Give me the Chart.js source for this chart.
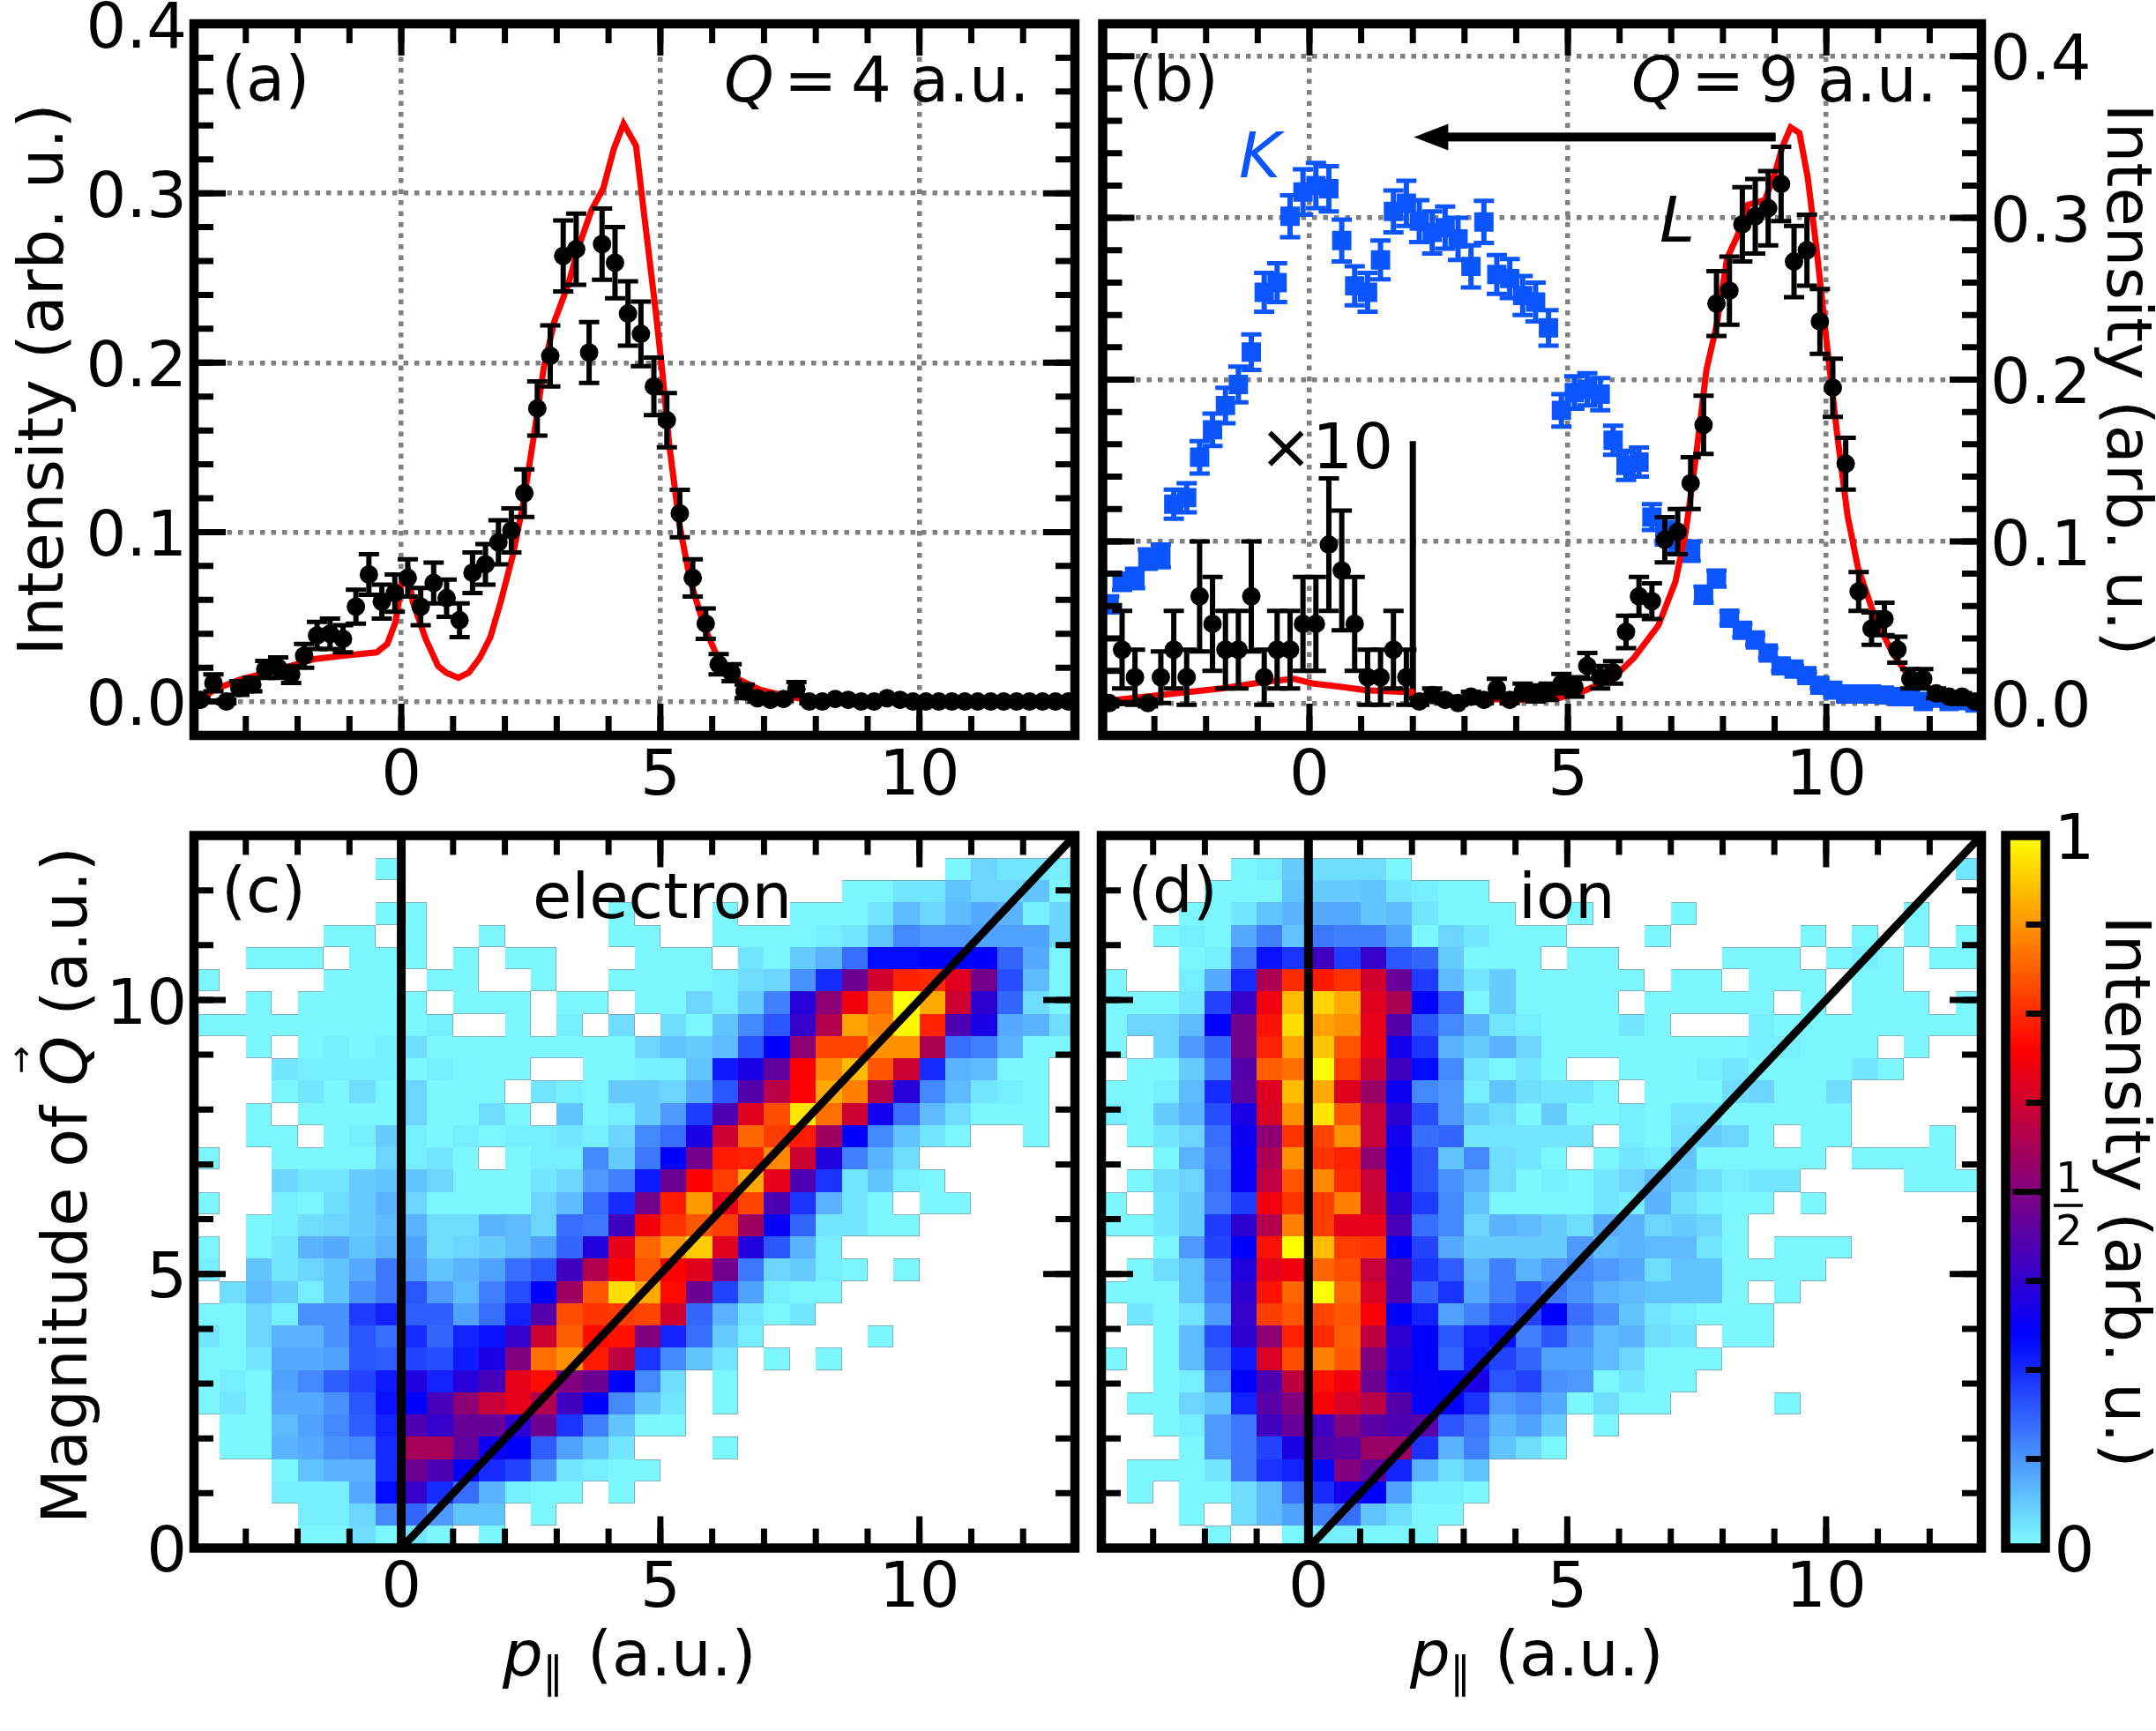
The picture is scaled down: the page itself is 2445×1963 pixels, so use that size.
<!DOCTYPE html>
<html>
<head>
<meta charset="utf-8">
<title>Intensity vs p parallel</title>
<script src="https://cdn.jsdelivr.net/npm/chart.js@4/dist/chart.umd.min.js"></script>
<style>
body { margin: 0; background: #fff; overflow: hidden; }
canvas { position: absolute; }
</style>
</head>
<body>
<canvas id="panel_a"></canvas>
<canvas id="panel_b"></canvas>
<canvas id="panel_c"></canvas>
<canvas id="panel_d"></canvas>
<canvas id="panel_cb"></canvas>
<script>
// bin centres shared by all measured points
var bin_x = [-3.875,-3.625,-3.375,-3.125,-2.875,-2.625,-2.375,-2.125,-1.875,-1.625,-1.375,-1.125,-0.875,-0.625,-0.375,-0.125,
    0.125,0.375,0.625,0.875,1.125,1.375,1.625,1.875,2.125,2.375,2.625,2.875,3.125,3.375,3.625,3.875,4.125,4.375,4.625,4.875,
    5.125,5.375,5.625,5.875,6.125,6.375,6.625,6.875,7.125,7.375,7.625,7.875,8.125,8.375,8.625,8.875,9.125,9.375,9.625,9.875,
    10.125,10.375,10.625,10.875,11.125,11.375,11.625,11.875,12.125,12.375,12.625,12.875];

// panel (a)
var a_values = [0.001,0.011,0,0.008,0.010,0.019,0.020,0.016,0.027,0.039,0.040,0.037,0.056,0.075,0.059,0.064,
    0.073,0.056,0.070,0.061,0.048,0.076,0.081,0.094,0.101,0.123,0.173,0.204,0.263,0.267,0.206,0.270,0.259,0.229,0.217,0.186,
    0.166,0.111,0.073,0.046,0.022,0.017,0.006,0.002,0.001,0.0015,0.0075,0,0,0.0015,0.001,0,0,0.002,0.001,0,
    0,0,0,0,0,0,0,0,0,0,0,0];
var a_errors = [0.001,0.005,0.001,0.004,0.004,0.005,0.006,0.005,0.007,0.008,0.009,0.008,0.010,0.012,0.010,0.011,
    0.011,0.011,0.012,0.011,0.010,0.012,0.012,0.013,0.013,0.014,0.016,0.018,0.021,0.021,0.018,0.021,0.021,0.019,0.019,0.017,
    0.016,0.014,0.011,0.009,0.006,0.005,0.004,0.002,0.001,0.001,0.004,0.001,0.001,0.001,0.001,0.001,0.001,0.001,0.001,0.001,
    0.001,0.001,0.001,0.001,0.001,0.001,0.001,0.001,0.001,0.001,0.001,0.001];
var a_curve_x = [-3.86,-3.61,-3.11,-2.36,-1.69,-1.15,-0.475,-0.27,-0.11,0.01,0.13,0.22,0.47,0.71,0.87,1.10,1.30,1.52,1.72,1.92,
    2.15,2.35,2.55,2.75,2.95,3.22,3.43,3.67,3.90,4.10,4.29,4.53,4.70,4.90,5.04,5.17,5.37,5.58,5.85,6.12,6.52,6.92,7.46,7.86,8.40,12.9];
var a_curve_y = [0.001,0.007,0.013,0.019,0.025,0.027,0.029,0.034,0.047,0.071,0.077,0.059,0.037,0.021,0.017,0.014,0.017,0.026,0.038,0.059,
    0.086,0.116,0.155,0.197,0.224,0.246,0.269,0.290,0.303,0.326,0.341,0.328,0.284,0.233,0.194,0.152,0.104,0.071,0.044,0.025,0.013,0.007,0.003,0.001,0,0];

// panel (b), L shell (x<2 already multiplied by ten, as plotted)
var l_values = [0,0.033,0.016,0,0.016,0.033,0.016,0.066,0.049,0.033,0.033,0.066,0.016,0.033,0.033,0.049,
    0.049,0.098,0.082,0.049,0.016,0.016,0.033,0.016,0.001,0.005,0.002,0,0.004,0.002,0.009,0.002,0.007,0.006,0.007,0.012,
    0.010,0.023,0.016,0.019,0.044,0.066,0.063,0.101,0.106,0.136,0.172,0.247,0.255,0.296,0.301,0.306,0.321,0.273,0.280,0.236,
    0.195,0.148,0.069,0.046,0.052,0.033,0.015,0.015,0.006,0.004,0.004,0.001];
var l_errors = [0.002,0.024,0.017,0.002,0.016,0.024,0.017,0.034,0.029,0.024,0.024,0.034,0.017,0.024,0.024,0.029,
    0.029,0.041,0.037,0.029,0.017,0.017,0.024,0.017,0.002,0.004,0.002,0.001,0.003,0.002,0.006,0.002,0.005,0.005,0.005,0.006,
    0.006,0.008,0.007,0.007,0.010,0.012,0.011,0.014,0.014,0.016,0.018,0.020,0.021,0.023,0.023,0.023,0.023,0.022,0.022,0.020,
    0.018,0.016,0.012,0.010,0.010,0.008,0.006,0.006,0.003,0.002,0.002,0.001];
// panel (b), K shell
var k_values = [0.061,0.075,0.077,0.089,0.091,0.123,0.127,0.152,0.169,0.184,0.197,0.217,0.254,0.260,0.301,0.316,
    0.320,0.318,0.286,0.258,0.254,0.274,0.304,0.309,0.298,0.291,0.294,0.287,0.270,0.2975,0.265,0.2625,0.252,0.248,0.232,0.181,
    0.192,0.194,0.191,0.1625,0.147,0.149,0.115,0.105,0.100,0.094,0.067,0.077,0.0525,0.045,0.039,0.031,0.023,0.021,0.017,0.011,
    0.008,0.0056,0.0056,0.0056,0.005,0.004,0.004,0.001,0.003,0.001,0.0015,0];
var k_errors = [0.005,0.005,0.006,0.006,0.007,0.009,0.009,0.010,0.010,0.011,0.011,0.011,0.012,0.012,0.013,0.014,
    0.014,0.014,0.013,0.012,0.012,0.012,0.013,0.014,0.013,0.013,0.013,0.013,0.013,0.013,0.012,0.012,0.012,0.012,0.011,0.010,
    0.010,0.010,0.010,0.009,0.009,0.009,0.008,0.007,0.007,0.006,0.005,0.005,0.004,0.004,0.003,0.003,0.003,0.002,0.002,0.002,
    0.002,0.001,0.001,0.001,0.001,0.001,0.001,0.001,0.001,0.001,0.001,0.001];
var b_curve_x = [-3.875,-3.17,-2.3,-1.7,-0.9,-0.3,0.09,0.63,1.09,1.76,1.98,2.02,2.82,4.02,4.82,5.35,5.89,6.28,6.75,7.08,7.28,7.48,7.68,7.88,
    8.08,8.28,8.48,8.81,9.01,9.15,9.31,9.48,9.64,9.81,10.01,10.21,10.41,10.61,10.95,11.28,11.61,12.01,12.41,12.89];
var b_curve_y = [0.0016,0.004,0.007,0.009,0.013,0.015,0.012,0.010,0.008,0.007,0.007,0.0016,0.003,0.002,0.003,0.008,0.016,0.028,0.048,0.075,0.106,0.153,0.206,0.234,
    0.275,0.289,0.308,0.311,0.328,0.344,0.356,0.3525,0.325,0.281,0.222,0.166,0.116,0.084,0.052,0.031,0.016,0.009,0.004,0.001];
var scale_line_x = [2, 2];
var scale_line_y = [0, 0.162];

// 2D maps, percent of max, rows from the top (y=13) down, columns from x=-4, missing tail = empty
var electron_rows = [
    [],
    [0,0,0,0,0,0,0,1, 0,0,0,0,0,0,0,0,0,0,0,0,0,0,0,0,0,0,0,0,0,1,5,3,3,2],
    [0,0,0,0,0,0,0,0, 0,0,0,0,0,0,0,0,0,0,0,0,0,0,0,0,0,1,1,3,3,7,5,5,7,1],
    [0,0,0,0,0,0,0,1, 1,0,0,0,0,0,0,0,1,0,0,0,1,0,0,1,1,1,3,8,5,8,10,9,2,5],
    [0,0,0,0,0,1,1,0, 1,0,0,1,0,0,0,0,1,1,0,0,1,1,1,1,2,3,7,14,12,12,11,11,11,5],
    [0,0,1,1,1,0,1,1, 1,0,1,0,1,1,0,0,0,1,1,1,0,3,1,6,9,17,29,29,30,30,30,18,10,1],
    [1,0,0,0,0,1,1,1, 0,1,1,0,0,1,0,0,1,1,1,1,2,4,5,13,25,47,63,74,75,65,48,21,8,1],
    [0,0,1,0,1,1,1,1, 1,0,1,1,1,0,1,1,0,1,1,5,2,6,15,36,52,68,82,100,90,62,37,18,4,1],
    [1,1,1,1,1,1,1,1, 1,2,0,0,1,0,2,0,4,0,4,1,7,14,20,38,58,89,85,99,74,42,34,10,9,4],
    [0,0,1,0,1,2,1,2, 4,1,1,1,1,1,1,1,1,5,7,6,8,20,30,52,78,78,87,87,57,17,15,9,1,1],
    [0,0,0,3,2,2,2,2, 1,2,1,1,1,0,0,1,1,2,2,7,27,34,45,70,86,92,80,62,25,9,8,1,1,0],
    [0,0,0,1,3,1,4,1, 5,1,1,1,0,3,2,1,6,6,5,10,20,43,59,70,90,85,58,36,14,8,3,2,1,0],
    [0,0,1,0,1,1,1,1, 5,1,1,4,1,0,7,1,2,6,12,23,42,65,79,97,83,62,33,17,8,4,1,1,1,0],
    [0,0,1,1,0,1,2,6, 2,1,2,1,2,2,3,2,5,14,17,34,62,82,77,73,55,30,14,7,3,1,0,0,1,0],
    [1,0,0,1,1,1,1,5, 2,3,1,0,1,2,2,14,6,16,30,48,73,74,86,62,35,15,9,4],
    [0,0,0,5,3,3,6,7, 7,5,1,1,1,3,5,12,15,27,47,70,77,90,66,42,24,3,7,2,1],
    [1,0,0,2,1,4,6,9, 5,1,1,1,1,5,8,17,25,48,73,88,66,78,42,24,9,3,1,0,1,1],
    [0,0,1,2,4,5,6,8, 9,4,4,9,8,5,17,16,40,68,76,80,77,55,31,18,3,3,1,1],
    [1,0,1,3,9,10,7,9, 11,4,5,6,8,11,18,35,66,82,88,94,65,35,20,9,2],
    [2,0,7,3,5,7,10,16, 12,7,9,11,17,20,40,58,70,80,70,65,48,16,5,6,2,1,0,1],
    [0,4,8,6,2,7,13,16, 20,12,8,15,21,30,55,80,96,90,71,47,22,11,2,1,1],
    [1,1,5,2,13,13,23,26, 19,19,11,17,26,43,79,76,77,78,63,18,9,3,1,3],
    [3,1,5,9,9,13,20,17, 25,18,26,28,38,62,81,71,72,50,26,17,6,2,0,0,0,0,1],
    [1,1,3,10,10,11,20,19, 22,21,27,34,50,83,87,73,60,24,14,7,3,0,1,0,1],
    [1,2,1,11,14,19,22,27, 35,26,36,41,66,71,50,47,30,14,4,0,1],
    [1,3,1,10,10,13,20,28, 30,41,52,61,66,58,40,30,14,7,3,0,1],
    [0,1,1,8,11,14,19,26, 42,38,46,46,37,47,24,15,7,1,1],
    [0,1,1,9,10,13,14,25, 56,56,45,32,30,19,11,7,3,0,0,0,1],
    [0,0,0,1,7,9,9,25, 47,42,30,25,22,13,3,2,1,1],
    [0,0,0,2,2,2,10,29, 38,25,17,9,2,1,1,0,1],
    [0,0,0,0,2,2,5,14, 18,12,7,7,0,1],
    [0,0,0,0,1,1,4,1, 3,1,0,1]
];
var ion_rows = [
    [],
    [0,0,0,0,0,1,2,6, 4,4,4,1,0,0,0,0,0,0,0,0,0,0,0,0,0,0,0,0,0,0,0,0,0,3],
    [0,0,0,0,1,1,1,7, 6,6,7,3,2,1,1],
    [0,0,0,1,1,3,7,9, 10,10,7,8,3,1,1,1,0,0,1,0,0,0,1,0,0,0,0,0,0,0,0,1],
    [0,0,1,2,1,10,15,7, 16,15,15,11,1,5,3,1,1,1,0,0,0,1,0,0,0,0,0,1,0,1,0,1,0,1],
    [0,0,0,1,2,16,28,24, 40,23,38,20,18,6,1,1,1,0,1,1,0,0,0,0,1,1,1,0,1,2,1,0,1,1],
    [1,0,0,2,10,25,57,75, 73,76,63,46,23,8,3,6,1,1,1,1,1,0,1,1,0,1,1,1,0,1,1],
    [1,1,1,3,22,38,68,92, 95,90,65,57,30,19,1,6,1,1,1,1,0,1,1,1,1,1,0,1,0,1,1,1,0,1],
    [1,5,5,8,30,48,72,96, 89,87,66,43,20,14,9,3,2,1,1,1,3,1,0,0,0,2,1,1,1,1,1,1,1,1],
    [1,0,5,12,18,48,74,89, 93,80,67,33,24,9,6,9,5,1,1,1,1,1,1,1,1,2,2,1,1,1,0,1],
    [0,1,1,6,15,43,81,83, 100,77,62,40,29,14,3,1,3,1,0,0,1,1,1,2,3,1,1,1,1,3,1],
    [1,1,2,8,25,44,65,92, 90,65,54,32,14,12,2,7,4,3,3,1,0,1,1,1,4,5,1,1,4],
    [2,1,6,9,21,34,64,87, 97,80,61,37,21,12,6,4,1,6,1,1,2,1,3,3,1,1,1,1,1],
    [0,1,3,5,17,32,52,76, 78,87,61,33,17,18,3,3,3,3,3,0,2,1,4,6,5,1,0,1,1,0,0,0,1],
    [0,0,1,9,16,31,57,87, 76,74,52,31,20,7,14,4,3,1,0,1,3,2,7,1,1,1,1,1,0,1,1,1,1],
    [0,1,4,5,17,31,60,80, 86,75,61,31,20,13,9,4,1,2,1,3,5,8,6,4,2,3,3,0,0,0,0,1,1,1],
    [1,0,3,6,16,23,68,76, 77,85,62,37,23,14,7,1,1,1,1,3,2,9,4,2,1,1,0,1],
    [1,1,3,6,23,37,58,85, 77,66,66,41,17,14,5,9,8,6,4,10,9,5,6,5,1],
    [0,0,1,12,22,30,72,100, 92,77,76,30,22,10,6,6,6,6,12,8,9,8,8,3,1,0,1,1,1],
    [0,1,4,7,16,35,66,68, 82,79,61,42,24,19,9,15,9,12,14,12,10,4,7,7,1,1,1,1],
    [1,1,1,7,15,37,72,82, 100,82,64,42,18,24,10,15,19,16,13,9,8,7,7,7,1,0,1],
    [0,3,1,3,12,38,77,80, 78,80,69,30,26,11,15,20,22,30,17,13,7,3,2,1,1,1],
    [0,0,1,8,21,37,52,74, 75,81,60,37,30,20,26,28,15,20,13,8,9,4,3,0,1,1],
    [1,0,1,8,18,27,64,79, 85,80,50,35,30,18,27,22,18,11,11,8,5,1,1,1],
    [0,0,1,2,14,30,42,60, 72,68,47,33,31,30,34,20,22,13,12,1,3,1,1],
    [0,1,1,5,7,26,44,50, 69,64,59,43,31,30,24,12,14,10,1,4,1,1,0,0,0,0,1],
    [0,0,1,2,12,16,40,46, 40,50,44,42,44,20,16,9,11,6,0,1],
    [0,0,0,1,12,16,22,34, 43,44,54,54,24,9,15,7,4,1],
    [0,1,1,1,3,16,24,26, 29,50,45,26,9,4,7],
    [0,1,0,1,1,4,8,17, 25,33,30,11,2,2,1],
    [0,0,0,1,0,4,8,11, 15,17,7,4,1,1],
    [0,0,0,0,1,0,0,1, 2,2,1,1,1]
];
var guide_vert_x = [0, 0];
var guide_vert_y = [0, 13];
var guide_diag_x = [0, 13];
var guide_diag_y = [0, 13];

// ticks
var x_major = [0, 5, 10];
var x_labels = ["0", "5", "10"];
var top_major = [0, 0.1, 0.2, 0.3, 0.4];
var top_labels = ["0.0", "0.1", "0.2", "0.3", "0.4"];
var map_major = [0, 5, 10];
var map_labels = ["0", "5", "10"];
var cb_major = [0, 1];
var cb_labels = ["0", "1"];
var cb_minor = [0.125, 0.25, 0.375, 0.625, 0.75, 0.875];

// colormap, value -> rgb
var cmap_pos = [0, 0.3, 0.7, 1];
var cmap_rgb = [[128,255,255], [0,0,255], [255,0,0], [255,255,0]];

var FONT = '"DejaVu Sans"';
var FONT_SIZE = 72;
var BLUE = "#0a55ff";
var RED = "#ff0000";
var GREY = "#808080";

function cmap(v) {
    for (var i = 1; i < cmap_pos.length; i++) {
        if (v <= cmap_pos[i]) {
            var f = (v - cmap_pos[i-1]) / (cmap_pos[i] - cmap_pos[i-1]);
            var a = cmap_rgb[i-1], b = cmap_rgb[i];
            return "rgb(" + [0,1,2].map(function(k) { return Math.round(a[k] + f*(b[k]-a[k])); }).join(",") + ")";
        }
    }
    return "rgb(255,255,0)";
}

function xy(xs, ys) {
    return xs.map(function(x, i) { return {x: x, y: ys[i]}; });
}

function steps(from, to, step) {
    var out = [];
    for (var i = 0; from + i*step <= to + 1e-9; i++) out.push(from + i*step);
    return out;
}

// text runs on the canvas, x/y are page pixels
function draw_runs(chart, runs, x, y, rot, color) {
    var ctx = chart.ctx;
    var r = chart.canvas.getBoundingClientRect();
    ctx.save();
    ctx.translate(x - r.left, y - r.top);
    if (rot) ctx.rotate(rot);
    ctx.fillStyle = color || "#000";
    ctx.textBaseline = "alphabetic";
    ctx.textAlign = "left";
    var pos = 0;
    runs.forEach(function(run) {
        ctx.font = (run.italic ? "italic " : "") + (run.size || FONT_SIZE) + "px " + FONT;
        if (run.at !== undefined) pos = run.at;
        ctx.fillText(run.text, pos, run.dy || 0);
        pos += ctx.measureText(run.text).width;
    });
    ctx.restore();
}

function q_label(chart, digit, x) {
    draw_runs(chart, [{text: "Q", italic: true}, {text: "=", at: 68}, {text: digit, at: 144}, {text: "a.u.", at: 211}], x, 115);
}

function draw_ticks(chart, cfg) {
    var ctx = chart.ctx, area = chart.chartArea;
    var sx = chart.scales.x, sy = chart.scales.y;
    ctx.save();
    ctx.strokeStyle = "#000";
    ctx.lineWidth = 7;
    function vert(v, len) {
        var p = sx.getPixelForValue(v);
        ctx.beginPath();
        ctx.moveTo(p, area.top); ctx.lineTo(p, area.top + len);
        ctx.moveTo(p, area.bottom); ctx.lineTo(p, area.bottom - len);
        ctx.stroke();
    }
    function horiz(v, len) {
        var p = sy.getPixelForValue(v);
        ctx.beginPath();
        ctx.moveTo(area.left, p); ctx.lineTo(area.left + len, p);
        ctx.moveTo(area.right, p); ctx.lineTo(area.right - len, p);
        ctx.stroke();
    }
    (cfg.x_minor || []).forEach(function(v) { vert(v, 22); });
    (cfg.x_major || []).forEach(function(v) { vert(v, 36); });
    (cfg.y_minor || []).forEach(function(v) { horiz(v, 22); });
    (cfg.y_major || []).forEach(function(v) { horiz(v, 36); });
    ctx.restore();
}

function draw_map(chart, rows) {
    var ctx = chart.ctx;
    var sx = chart.scales.x, sy = chart.scales.y;
    var row_h = 13 / rows.length;
    function px(c) { return Math.round(sx.getPixelForValue(-4 + c*0.5)); }
    function py(r) { return Math.round(sy.getPixelForValue(13 - r*row_h)); }
    function val(r, c) { return (rows[r] && rows[r][c]) || 0; }
    ctx.save();
    rows.forEach(function(row, r) {
        row.forEach(function(v, c) {
            if (!v) return;
            ctx.fillStyle = cmap(v / 100);
            ctx.fillRect(px(c), py(r), px(c+1) - px(c), py(r+1) - py(r));
        });
    });
    // thin grey rim where a cell borders an empty one
    ctx.fillStyle = "rgba(128,128,128,0.55)";
    rows.forEach(function(row, r) {
        row.forEach(function(v, c) {
            if (!v) return;
            if (!val(r-1, c)) ctx.fillRect(px(c), py(r), px(c+1) - px(c), 1);
            if (!val(r+1, c)) ctx.fillRect(px(c), py(r+1) - 1, px(c+1) - px(c), 1);
            if (!val(r, c+1)) ctx.fillRect(px(c+1) - 1, py(r), 1, py(r+1) - py(r));
        });
    });
    ctx.restore();
}

function draw_errors(chart, ds) {
    var ctx = chart.ctx, area = chart.chartArea;
    var sx = chart.scales.x, sy = chart.scales.y;
    ctx.save();
    ctx.beginPath();
    ctx.rect(area.left, area.top, area.width, area.height);
    ctx.clip();
    ctx.strokeStyle = ds.backgroundColor;
    ds.data.forEach(function(p, i) {
        var x = sx.getPixelForValue(p.x);
        var y0 = sy.getPixelForValue(p.y - ds.errs[i]);
        var y1 = sy.getPixelForValue(p.y + ds.errs[i]);
        ctx.lineWidth = 6;
        ctx.beginPath();
        ctx.moveTo(x, y0); ctx.lineTo(x, y1);
        ctx.stroke();
        ctx.lineWidth = 5;
        ctx.beginPath();
        ctx.moveTo(x - 11.5, y0); ctx.lineTo(x + 11.5, y0);
        ctx.moveTo(x - 11.5, y1); ctx.lineTo(x + 11.5, y1);
        ctx.stroke();
    });
    ctx.restore();
}

function make_panel(id, box, cfg) {
    var canvas = document.getElementById(id);
    canvas.width = box.w;
    canvas.height = box.h;
    canvas.style.left = box.x + "px";
    canvas.style.top = box.y + "px";

    var panel_plugin = {
        id: "panel_" + id,
        beforeDatasetsDraw: function(chart) {
            if (cfg.rows) draw_map(chart, cfg.rows);
            if (cfg.before) cfg.before(chart);
        },
        beforeDatasetDraw: function(chart, args) {
            var ds = chart.data.datasets[args.index];
            if (ds.errs) draw_errors(chart, ds);
        },
        afterDraw: function(chart) {
            var area = chart.chartArea, ctx = chart.ctx;
            draw_ticks(chart, cfg);
            ctx.save();
            ctx.strokeStyle = "#000";
            ctx.lineWidth = 10.5;
            ctx.strokeRect(area.left, area.top, area.width, area.height);
            ctx.restore();
            if (cfg.after) cfg.after(chart);
        }
    };

    function fix_box(size_key, size) {
        return function(s) {
            s[size_key] = size;
            s.paddingLeft = s.paddingRight = s.paddingTop = s.paddingBottom = 0;
        };
    }
    var tick_font = {family: FONT, size: FONT_SIZE};
    var grid_on = !!cfg.grid;

    return new Chart(canvas, {
        type: "scatter",
        data: {datasets: cfg.datasets || []},
        plugins: [panel_plugin],
        options: {
            responsive: false,
            animation: false,
            devicePixelRatio: 1,
            events: [],
            layout: {padding: cfg.padding},
            plugins: {legend: {display: false}, tooltip: {enabled: false}},
            scales: {
                x: {
                    type: "linear",
                    display: cfg.x_display !== false,
                    min: -4,
                    max: 13,
                    afterBuildTicks: function(s) { s.ticks = x_major.map(function(v) { return {value: v}; }); },
                    afterFit: fix_box("height", cfg.x_height),
                    ticks: {
                        font: tick_font, color: "#000", padding: cfg.x_pad, maxRotation: 0, autoSkip: false,
                        callback: function(v) { return x_labels[x_major.indexOf(v)]; }
                    },
                    grid: {display: grid_on, color: GREY, lineWidth: 5.5, drawTicks: false},
                    border: {display: false, dash: [5.5, 7]}
                },
                y: {
                    type: "linear",
                    position: cfg.y_pos || "left",
                    min: cfg.y_min,
                    max: cfg.y_max,
                    afterBuildTicks: function(s) { s.ticks = cfg.y_ticks.map(function(v) { return {value: v}; }); },
                    afterFit: fix_box("width", cfg.y_width),
                    ticks: {
                        display: cfg.y_labels !== null,
                        font: tick_font, color: "#000", padding: cfg.y_pad, maxRotation: 0, autoSkip: false,
                        labelOffset: 8,
                        callback: function(v) { return cfg.y_labels ? cfg.y_labels[cfg.y_ticks.indexOf(v)] : ""; }
                    },
                    title: {
                        display: !!cfg.y_title,
                        text: cfg.y_title,
                        color: "#000",
                        font: {family: FONT, size: FONT_SIZE, lineHeight: 1},
                        padding: {top: cfg.title_pad || 0, bottom: 0}
                    },
                    grid: {display: grid_on, color: GREY, lineWidth: 5.5, drawTicks: false},
                    border: {display: false, dash: [5.5, 7]}
                }
            }
        }
    });
}

function guides() {
    return [
        {data: xy(guide_vert_x, guide_vert_y), showLine: true, pointRadius: 0, borderColor: "#000", borderWidth: 10},
        {data: xy(guide_diag_x, guide_diag_y), showLine: true, pointRadius: 0, borderColor: "#000", borderWidth: 9}
    ];
}

function p_label(chart, x) {
    draw_runs(chart, [{text: "p", italic: true}], x, 1900);
    draw_runs(chart, [{text: "\u2225", size: 49}], x + 45, 1914);
    draw_runs(chart, [{text: "(a.u.)"}], x + 96, 1900);
}

(function() {
    var x_minor = steps(-4, 13, 1);
    var top_minor = steps(0, 0.4, 0.02);
    var map_minor = steps(0, 13, 1);

    make_panel("panel_a", {x: 0, y: 0, w: 1235, h: 930}, {
        padding: {left: 0, right: 16, top: 27, bottom: 0},
        x_height: 96, x_pad: 5, y_width: 220, y_pad: 8,
        y_min: -0.02, y_max: 0.4, y_ticks: top_major, y_labels: top_labels,
        y_title: "Intensity (arb. u.)", title_pad: 16,
        grid: true,
        x_major: x_major, x_minor: x_minor, y_major: top_major, y_minor: top_minor,
        datasets: [
            {data: xy(bin_x, a_values), errs: a_errors, backgroundColor: "#000", pointRadius: 10.5, pointBorderWidth: 0},
            {data: xy(a_curve_x, a_curve_y), showLine: true, pointRadius: 0, borderColor: RED, borderWidth: 7}
        ],
        after: function(chart) {
            draw_runs(chart, [{text: "(a)"}], 251, 114);
            q_label(chart, "4", 821);
        }
    });

    make_panel("panel_b", {x: 1235, y: 0, w: 1210, h: 930}, {
        padding: {left: 14, right: 0, top: 27, bottom: 0},
        x_height: 96, x_pad: 5, y_width: 198, y_pos: "right", y_pad: 10,
        y_min: -0.02, y_max: 0.42, y_ticks: top_major, y_labels: top_labels,
        y_title: "Intensity (arb. u.)", title_pad: 0,
        grid: true,
        x_major: x_major, x_minor: x_minor, y_major: top_major, y_minor: top_minor,
        datasets: [
            {data: xy(bin_x, l_values), errs: l_errors, backgroundColor: "#000", pointRadius: 10.5, pointBorderWidth: 0},
            {data: xy(b_curve_x, b_curve_y), showLine: true, pointRadius: 0, borderColor: RED, borderWidth: 7},
            {data: xy(scale_line_x, scale_line_y), showLine: true, pointRadius: 0, borderColor: "#000", borderWidth: 7},
            {data: xy(bin_x, k_values), errs: k_errors, backgroundColor: BLUE, pointStyle: "rect", pointRadius: 15.5, pointBorderWidth: 0}
        ],
        after: function(chart) {
            var ctx = chart.ctx;
            var x0 = chart.scales.x.getPixelForValue(9.02);
            var x1 = chart.scales.x.getPixelForValue(2.02);
            var y = chart.scales.y.getPixelForValue(0.35);
            ctx.save();
            ctx.fillStyle = "#000";
            ctx.fillRect(x1 + 30, y - 5, x0 - x1 - 30, 10);
            ctx.beginPath();
            ctx.moveTo(x1, y); ctx.lineTo(x1 + 39, y - 15); ctx.lineTo(x1 + 39, y + 15);
            ctx.closePath();
            ctx.fill();
            ctx.restore();
            draw_runs(chart, [{text: "(b)"}], 1280, 114);
            q_label(chart, "9", 1850);
            draw_runs(chart, [{text: "K", italic: true}], 1405, 201, 0, BLUE);
            draw_runs(chart, [{text: "L", italic: true}], 1882, 274);
            draw_runs(chart, [{text: "\u00d710"}], 1428, 531);
        }
    });

    make_panel("panel_c", {x: 0, y: 930, w: 1235, h: 1033}, {
        padding: {left: 0, right: 16, top: 17.5, bottom: 0},
        x_height: 207.5, x_pad: 5, y_width: 220, y_pad: 8,
        y_min: 0, y_max: 13, y_ticks: map_major, y_labels: map_labels,
        rows: electron_rows,
        x_major: x_major, x_minor: x_minor, y_major: map_major, y_minor: map_minor,
        datasets: guides(),
        after: function(chart) {
            draw_runs(chart, [{text: "(c)"}], 251, 1034);
            draw_runs(chart, [{text: "electron"}], 604, 1041);
            p_label(chart, 570);
            var ang = -Math.PI / 2;
            draw_runs(chart, [{text: "Magnitude of "}, {text: "Q", italic: true}, {text: " (a.u.)"}], 98, 1728, ang);
            draw_runs(chart, [{text: "\u2192", size: 38}], 36, 1218, ang);
        }
    });

    make_panel("panel_d", {x: 1235, y: 930, w: 1020, h: 1033}, {
        padding: {left: 14, right: 8, top: 17.5, bottom: 0},
        x_height: 207.5, x_pad: 5, y_width: 0, y_pad: 0,
        y_min: 0, y_max: 13, y_ticks: map_major, y_labels: null,
        rows: ion_rows,
        x_major: x_major, x_minor: x_minor, y_major: map_major, y_minor: map_minor,
        datasets: guides(),
        after: function(chart) {
            draw_runs(chart, [{text: "(d)"}], 1279, 1034);
            draw_runs(chart, [{text: "ion"}], 1722, 1041);
            p_label(chart, 570 + 1029);
        }
    });

    // taller canvas here so the "1" tick label has room above the bar
    make_panel("panel_cb", {x: 2255, y: 890, w: 190, h: 1073}, {
        padding: {left: 19.5, right: 0, top: 57.5, bottom: 207.5},
        x_display: false, x_height: 0, x_pad: 0, y_width: 125.5, y_pos: "right", y_pad: 10,
        y_min: 0, y_max: 1, y_ticks: cb_major, y_labels: cb_labels,
        y_title: "Intensity (arb. u.)", title_pad: 2,
        before: function(chart) {
            var ctx = chart.ctx, area = chart.chartArea, sy = chart.scales.y;
            var g = ctx.createLinearGradient(0, sy.getPixelForValue(0), 0, sy.getPixelForValue(1));
            cmap_pos.forEach(function(p) { g.addColorStop(p, cmap(p)); });
            ctx.fillStyle = g;
            ctx.fillRect(area.left, area.top, area.width, area.height);
        },
        after: function(chart) {
            var ctx = chart.ctx, area = chart.chartArea, sy = chart.scales.y;
            ctx.save();
            ctx.strokeStyle = "#000";
            ctx.lineWidth = 7;
            cb_minor.forEach(function(v) {
                ctx.beginPath();
                ctx.moveTo(area.right, sy.getPixelForValue(v));
                ctx.lineTo(area.right - 22, sy.getPixelForValue(v));
                ctx.stroke();
            });
            ctx.beginPath();
            ctx.moveTo(area.right, sy.getPixelForValue(0.5));
            ctx.lineTo(area.right - 37, sy.getPixelForValue(0.5));
            ctx.stroke();
            // the 1/2 label, stacked
            ctx.lineWidth = 3.5;
            ctx.beginPath();
            ctx.moveTo(2329 - 2255, 1367 - 890);
            ctx.lineTo(2362 - 2255, 1367 - 890);
            ctx.stroke();
            ctx.restore();
            draw_runs(chart, [{text: "1", size: 48}], 2331, 1352);
            draw_runs(chart, [{text: "2", size: 48}], 2331, 1412);
        }
    });
})();
</script>
</body>
</html>
